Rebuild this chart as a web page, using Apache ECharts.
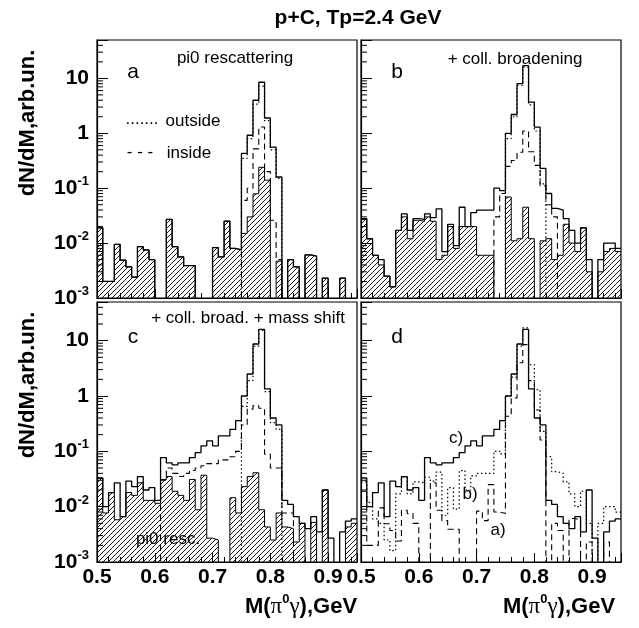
<!DOCTYPE html>
<html>
<head>
<meta charset="utf-8">
<script src="https://cdn.jsdelivr.net/npm/echarts@6/dist/echarts.min.js"></script>
<style>
  html, body { margin: 0; padding: 0; background: #fff; }
  #chart { width: 639px; height: 628px; }
</style>
</head>
<body>
<div id="chart"></div>
<script>
// bin edges of M(pi0 gamma), GeV (10 MeV bins)
const binEdges = [0.50, 0.51, 0.52, 0.53, 0.54, 0.55, 0.56, 0.57, 0.58, 0.59,
  0.60, 0.61, 0.62, 0.63, 0.64, 0.65, 0.66, 0.67, 0.68, 0.69,
  0.70, 0.71, 0.72, 0.73, 0.74, 0.75, 0.76, 0.77, 0.78, 0.79,
  0.80, 0.81, 0.82, 0.83, 0.84, 0.85, 0.86, 0.87, 0.88, 0.89,
  0.90, 0.91, 0.92, 0.93, 0.94, 0.95]

// panel a : pi0 rescattering (0 = empty bin)
const aHatch = [0.019, 0.002, 0.002, 0.0095, 0.0049, 0.0037, 0.0024, 0.0086, 0.0075, 0.005,
  0, 0, 0.027, 0.0086, 0.0056, 0.0039, 0.0039, 0, 0, 0,
  0.0083, 0.0056, 0.025, 0.008, 0.0075, 0.015, 0.030, 0.079, 0.24, 0.14,
  0, 0.0047, 0, 0.005, 0.0037, 0, 0.0061, 0.0058, 0, 0.0023,
  0, 0, 0.0023, 0, 0]
const aTotal = [0.019, 0.002, 0.002, 0.0095, 0.0049, 0.0037, 0.0024, 0.0086, 0.0075, 0.005,
  0, 0, 0.027, 0.0086, 0.0056, 0.0039, 0.0039, 0, 0, 0,
  0.0083, 0.0056, 0.025, 0.008, 0.0075, 0.43, 0.92, 4.0, 8.5, 1.9,
  0.56, 0.16, 0, 0.005, 0.0037, 0, 0.0061, 0.0058, 0, 0.0023,
  0, 0, 0.0023, 0, 0]
const aInside = [0, 0, 0, 0, 0, 0, 0, 0, 0, 0,
  0, 0, 0, 0, 0, 0, 0, 0, 0, 0,
  0, 0, 0, 0, 0, 0.06, 0.10, 0.52, 1.3, 0.2,
  0.026, 0.005, 0, 0, 0, 0, 0, 0, 0, 0,
  0, 0, 0, 0, 0]
const aOutside = [0, 0, 0, 0, 0, 0, 0, 0, 0, 0,
  0, 0, 0, 0, 0, 0, 0, 0, 0, 0,
  0, 0, 0, 0, 0, 0.35, 0.8, 3.4, 7.2, 1.7,
  0.5, 0.15, 0, 0, 0, 0, 0, 0, 0, 0,
  0, 0, 0, 0, 0]

// panel b : + collisional broadening
const bHatch = [0.027, 0.012, 0.006, 0.004, 0.0025, 0.0016, 0.017, 0.03, 0.012, 0.026,
  0.025, 0.03, 0.025, 0.005, 0.006, 0.02, 0.008, 0.02, 0.02, 0.02,
  0.006, 0.006, 0.006, 0, 0, 0.069, 0.011, 0.012, 0.045, 0.012,
  0, 0.011, 0.012, 0.005, 0.006, 0.022, 0.01, 0.007, 0.019, 0.003,
  0, 0.003, 0.007, 0.008, 0.007]
const bTotal = [0.028, 0.012, 0.006, 0.005, 0.0025, 0.0016, 0.017, 0.034, 0.017, 0.028,
  0.027, 0.034, 0.029, 0.042, 0.007, 0.022, 0.009, 0.045, 0.02, 0.036,
  0.04, 0.04, 0.04, 0.1, 0.09, 1.0, 2.2, 8, 17, 3.7,
  1.3, 0.23, 0.08, 0.043, 0.04, 0.028, 0.017, 0.010, 0.019, 0.005,
  0, 0.005, 0.01, 0.01, 0.008]
const bInside = [0, 0, 0, 0, 0, 0, 0, 0, 0, 0,
  0, 0, 0, 0, 0, 0, 0, 0, 0, 0,
  0, 0, 0, 0.03, 0.08, 0.25, 0.32, 0.45, 1.1, 0.46,
  0.26, 0.11, 0.05, 0.03, 0, 0, 0, 0, 0, 0,
  0, 0, 0, 0, 0]
const bOutside = [0, 0, 0, 0, 0, 0, 0, 0, 0, 0,
  0, 0, 0, 0, 0, 0, 0, 0, 0, 0,
  0, 0, 0, 0, 0, 0.8, 2.0, 7.5, 16, 3.3,
  1.1, 0.12, 0, 0, 0, 0, 0, 0, 0, 0,
  0, 0, 0, 0, 0]

// panel c : + coll. broad. + mass shift
const cHatch = [0.033, 0.0077, 0.018, 0.0058, 0.0066, 0.018, 0.016, 0.027, 0.013, 0.013,
  0.0115, 0.031, 0.035, 0.019, 0.016, 0.013, 0.031, 0.0088, 0.037, 0.0027,
  0.0025, 0, 0, 0.0145, 0.0077, 0.023, 0.035, 0.041, 0.0088, 0.0043,
  0.0025, 0.0077, 0.0043, 0.004, 0.0023, 0.005, 0, 0.0052, 0, 0.02,
  0, 0, 0, 0.0043, 0.005]
const cTotal = [0.033, 0.010, 0.018, 0.027, 0.0066, 0.029, 0.023, 0.035, 0.020, 0.022,
  0.013, 0.077, 0.062, 0.057, 0.062, 0.062, 0.077, 0.095, 0.126, 0.155,
  0.126, 0.19, 0.19, 0.25, 0.36, 1.0, 2.5, 8.7, 16, 1.34,
  0.4, 0.3, 0.013, 0.011, 0.0066, 0.005, 0.004, 0.0066, 0.0035, 0.02,
  0.0027, 0, 0.0035, 0.0055, 0.006]
const cInside = [0, 0, 0, 0, 0, 0, 0, 0, 0, 0,
  0, 0.03, 0.05, 0.04, 0.035, 0.04, 0.045, 0.05, 0.055, 0.06,
  0.06, 0.07, 0.07, 0.08, 0.1, 0.3, 0.58, 0.67, 0.6, 0.089,
  0.05, 0.05, 0.0077, 0.0077, 0, 0, 0, 0, 0, 0,
  0, 0, 0, 0, 0]
const cOutside = [0, 0, 0, 0, 0, 0, 0, 0, 0, 0,
  0, 0, 0, 0, 0, 0, 0, 0, 0, 0,
  0, 0, 0, 0, 0, 0.65, 1.9, 8.0, 15.4, 1.2,
  0.33, 0.25, 0, 0, 0, 0, 0, 0, 0, 0,
  0, 0, 0, 0, 0]

const xTicks = [0.5, 0.6, 0.7, 0.8, 0.9]
const yDecades = [0.001, 0.01, 0.1, 1, 10]

const FLOOR = 1e-4
const FONT = "'Liberation Sans', Arial, sans-serif"
const grids = [
  { left: 97, top: 40, width: 260, height: 258 },
  { left: 361, top: 40, width: 260, height: 258 },
  { left: 97, top: 302, width: 260, height: 260 },
  { left: 361, top: 302, width: 260, height: 260 }
]

function hatchPattern () {
  let c = document.createElement('canvas')
  c.width = 5
  c.height = 5
  let g = c.getContext('2d')
  g.strokeStyle = '#000'
  g.lineWidth = 0.9
  g.beginPath()
  g.moveTo(0, 5); g.lineTo(5, 0)
  g.moveTo(-1, 1); g.lineTo(1, -1)
  g.moveTo(4, 6); g.lineTo(6, 4)
  g.stroke()
  return { image: c, repeat: 'repeat' }
}
const hatch = hatchPattern()

function hist (vals) {
  let pts = vals.map(function (v, i) { return [binEdges[i], v > 0 ? v : FLOOR] })
  pts.push([binEdges[vals.length], pts[pts.length - 1][1]])
  return pts
}

function histSeries (gi, vals, kind) {
  let s = {
    type: 'line',
    xAxisIndex: gi,
    yAxisIndex: gi,
    data: hist(vals),
    step: 'end',
    symbol: 'none',
    animation: false,
    clip: true,
    silent: true,
    lineStyle: { color: '#000', width: 1.3, type: 'solid' },
    z: 3
  }
  if (kind === 'hatch') {
    s.lineStyle.width = 1
    s.areaStyle = { color: hatch, opacity: 1, origin: FLOOR }
    s.z = 2
  } else if (kind === 'dashed') {
    s.lineStyle.width = 1.1
    s.lineStyle.type = [6, 4]
    s.z = 4
  } else if (kind === 'dotted') {
    s.lineStyle.width = 1.2
    s.lineStyle.type = [1.5, 2.5]
    s.z = 4
  }
  return s
}

function logLabel (v) {
  let l = Math.log10(v)
  let e = Math.round(l)
  if (Math.abs(l - e) > 0.01 || e > 1) return ''
  if (e === 0) return '1'
  if (e === 1) return '10'
  return '{b|10}{s|' + e + '}'
}

let myChart = echarts.init(document.getElementById('chart'), null, { renderer: 'canvas' })

let xAxes = [], yAxes = []
grids.forEach(function (g, i) {
  xAxes.push({
    type: 'value', gridIndex: i, min: 0.5, max: 0.95, interval: 0.1,
    axisLine: { show: true, lineStyle: { color: '#000', width: 1.2 } },
    axisTick: { show: true, inside: true, length: 9, lineStyle: { color: '#000' } },
    minorTick: { show: true, splitNumber: 5, length: 5, lineStyle: { color: '#000' } },
    splitLine: { show: false },
    minorSplitLine: { show: false },
    axisLabel: {
      show: i >= 2, margin: 5, color: '#000', fontFamily: FONT, fontWeight: 'bold', fontSize: 21,
      showMaxLabel: false,
      formatter: function (v) {
        return xTicks.some(function (t) { return Math.abs(t - v) < 1e-6 }) ? v.toFixed(1) : ''
      }
    }
  })
  yAxes.push({
    type: 'log', logBase: 10, gridIndex: i, min: 0.001, max: 50,
    axisLine: { show: true, lineStyle: { color: '#000', width: 1.2 } },
    axisTick: { show: true, inside: true, length: 11, lineStyle: { color: '#000' } },
    splitLine: { show: false },
    axisLabel: {
      show: i % 2 === 0, margin: 8, color: '#000', formatter: logLabel,
      fontFamily: FONT, fontWeight: 'bold', fontSize: 21,
      rich: {
        b: { fontFamily: FONT, fontWeight: 'bold', fontSize: 21, lineHeight: 26, color: '#000' },
        s: { fontFamily: FONT, fontWeight: 'bold', fontSize: 13, lineHeight: 14, verticalAlign: 'top', color: '#000' }
      }
    }
  })
})

let series = [
  histSeries(0, aHatch, 'hatch'), histSeries(0, aTotal, 'solid'),
  histSeries(0, aOutside, 'dotted'), histSeries(0, aInside, 'dashed'),
  histSeries(1, bHatch, 'hatch'), histSeries(1, bTotal, 'solid'),
  histSeries(1, bOutside, 'dotted'), histSeries(1, bInside, 'dashed'),
  histSeries(2, cHatch, 'hatch'), histSeries(2, cTotal, 'solid'),
  histSeries(2, cOutside, 'dotted'), histSeries(2, cInside, 'dashed'),
  histSeries(3, cTotal, 'solid'), histSeries(3, bTotal, 'dotted'),
  histSeries(3, aTotal, 'dashed')
]

let option = {
  backgroundColor: '#fff',
  animation: false,
  grid: grids.map(function (g) {
    return Object.assign({ show: true, borderColor: '#000', borderWidth: 1.2, backgroundColor: 'transparent', containLabel: false, outerBoundsMode: 'none' }, g)
  }),
  xAxis: xAxes,
  yAxis: yAxes,
  series: series
}
myChart.setOption(option, true)

// texts
function txt (text, x, y, size, weight, extra) {
  return Object.assign({
    type: 'text', x: x, y: y, silent: true, z: 10,
    style: {
      text: text, fill: '#000', fontFamily: FONT, fontSize: size, fontWeight: weight || 'normal',
      align: 'center', verticalAlign: 'middle', textAlign: 'center', textVerticalAlign: 'middle'
    }
  }, extra || {})
}
const xNameRich = {
  b: { fontFamily: FONT, fontWeight: 'bold', fontSize: 22, fill: '#000', lineHeight: 28 },
  g: { fontFamily: "'Liberation Serif', 'DejaVu Serif', serif", fontSize: 23, fill: '#000', lineHeight: 28 },
  s: { fontFamily: FONT, fontWeight: 'bold', fontSize: 13, fill: '#000', verticalAlign: 'top', lineHeight: 14 }
}
function xName (x, y) {
  let t = txt('{b|M(}{g|π}{s|0}{g|γ}{b|),GeV}', x, y, 22, 'bold')
  t.style.rich = xNameRich
  return t
}

let graphics = [
  txt('p+C, Tp=2.4 GeV', 358, 18, 21, 'bold'),
  txt('dN/dM,arb.un.', 28, 123, 22, 'bold', { rotation: Math.PI / 2 }),
  txt('dN/dM,arb.un.', 28, 385, 22, 'bold', { rotation: Math.PI / 2 }),
  xName(301, 607),
  xName(559, 607),
  txt('a', 133, 72, 21),
  txt('b', 397, 72, 21),
  txt('c', 133, 337, 21),
  txt('d', 397, 337, 21),
  txt('pi0 rescattering', 235, 58, 17),
  txt('+ coll. broadening', 515, 59, 17),
  txt('+ coll. broad. + mass shift', 248, 318, 17),
  txt('.......', 142, 119, 17),
  txt('outside', 193, 121, 17),
  txt('- - -', 140, 152, 17),
  txt('inside', 189, 153, 17),
  txt('pi0 resc.', 168, 539, 17),
  txt('c)', 456, 438, 17),
  txt('b)', 470, 494, 17),
  txt('a)', 498, 530, 17)
]

// logarithmic minor ticks on the y axes
grids.forEach(function (g, gi) {
  yDecades.forEach(function (d) {
    for (let k = 2; k <= 9; k++) {
      let v = k * d
      if (v >= 50) continue
      let y = myChart.convertToPixel({ yAxisIndex: gi }, v)
      graphics.push({
        type: 'line', silent: true, z: 5,
        shape: { x1: g.left, y1: y, x2: g.left + 6, y2: y },
        style: { stroke: '#000', lineWidth: 1 }
      })
    }
  })
})

myChart.setOption({ graphic: graphics })
</script>
</body>
</html>
